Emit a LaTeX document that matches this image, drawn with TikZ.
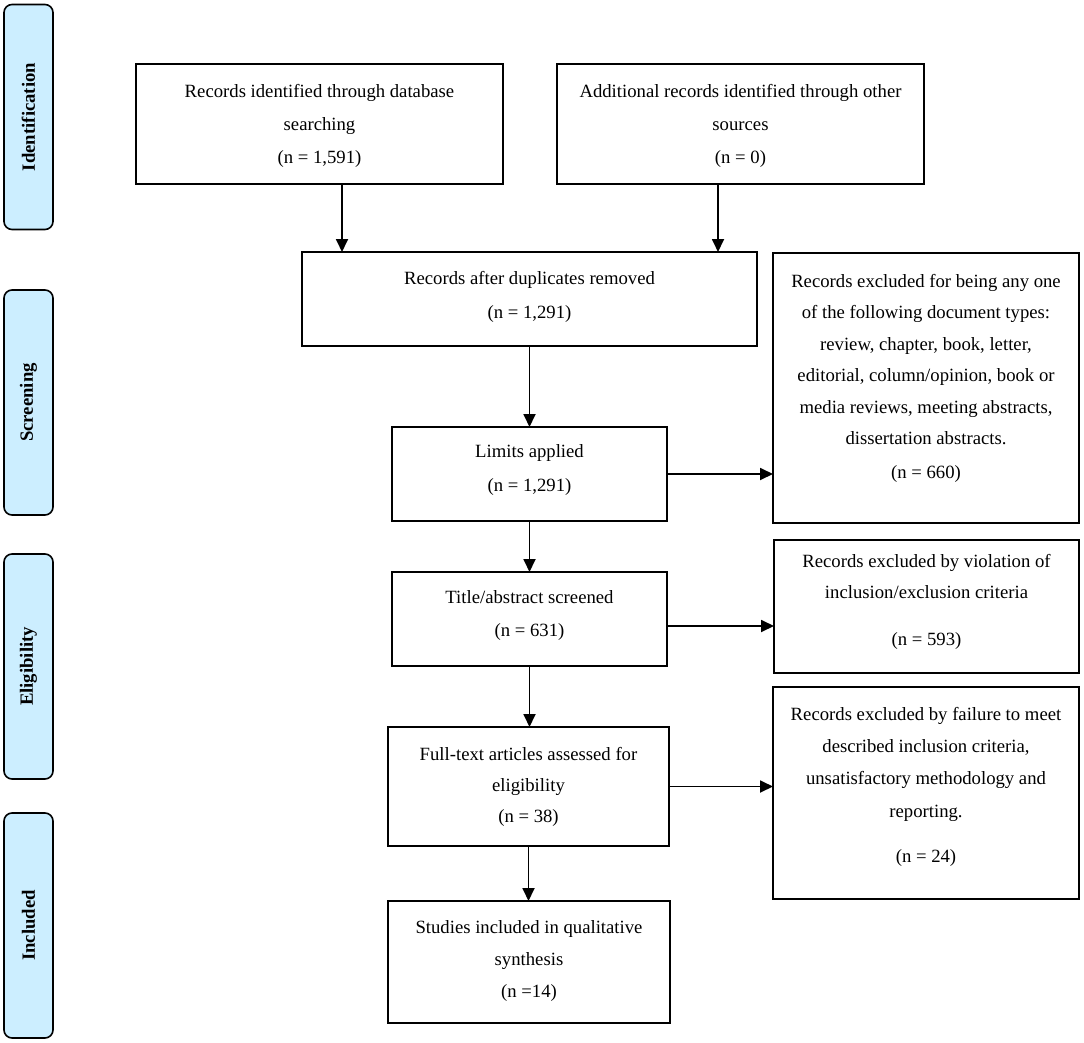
\documentclass[tikz,border=0pt]{standalone}
\usepackage{fontspec}
\setmainfont{Liberation Serif}
\usetikzlibrary{arrows.meta}
\definecolor{tabblue}{RGB}{204,238,255}
\newcommand{\bxt}[5]{\parbox[c][#2pt][t]{#1pt}{\fontsize{18.7pt}{#4pt}\selectfont\centering\vspace*{#3pt}#5}}
\begin{document}
\begin{tikzpicture}[x=1pt,y=1pt,
  box/.style={draw,line width=1.9pt,inner sep=0pt,outer sep=0pt,anchor=north west},
  tab/.style={draw,line width=1.6pt,fill=tabblue,rounded corners=8pt,rotate=90,
    minimum width=225pt,minimum height=49pt,inner sep=0pt,
    font=\fontsize{18.7pt}{22pt}\selectfont\bfseries},
  arr/.style={line width=1.8pt,-{Triangle[length=13pt,width=12pt]}}]
\useasboundingbox (0,0) rectangle (1084,-1043);

% phase tabs
\node[tab] (t1) at (28.5,-117) {Identification};
\node[tab] (t2) at (28.5,-402.5) {Screening};
\node[tab] (t3) at (28.5,-666.5) {Eligibility};
\node[tab] (t4) at (28.5,-925.5) {Included};

% boxes
\node[box] (b1) at (136,-64) {\bxt{367}{120}{20}{33}{Records identified through database\\searching\\(n = 1,591)}};
\node[box] (b2) at (557,-64) {\bxt{367}{120}{20}{33}{Additional records identified through other\\sources\\(n = 0)}};
\node[box] (b3) at (302,-252) {\bxt{455}{94}{19}{34}{Records after duplicates removed\\(n = 1,291)}};
\node[box] (b4) at (392,-427) {\bxt{275}{94}{18}{34}{Limits applied\\(n = 1,291)}};
\node[box] (r1) at (773,-253) {\bxt{306}{270}{21}{31.5}{Records excluded for being any one\\of the following document types:\\review, chapter, book, letter,\\editorial, column/opinion, book or\\media reviews, meeting abstracts,\\dissertation abstracts.\\[2.5pt](n = 660)}};
\node[box] (b5) at (392,-572) {\bxt{275}{94}{19}{33}{Title/abstract screened\\(n = 631)}};
\node[box] (r2) at (774,-540) {\bxt{305}{133}{14}{31}{Records excluded by violation of\\inclusion/exclusion criteria\\[16pt](n = 593)}};
\node[box] (b6) at (388,-727) {\bxt{281}{119}{20}{31}{Full-text articles assessed for\\eligibility\\(n = 38)}};
\node[box] (r3) at (773,-687) {\bxt{306}{212}{20}{32.3}{Records excluded by failure to meet\\described inclusion criteria,\\unsatisfactory methodology and\\reporting.\\[12.7pt](n = 24)}};
\node[box] (b7) at (388,-901) {\bxt{282}{122}{20}{32}{Studies included in qualitative\\synthesis\\(n =14)}};

% connectors
\coordinate (xa) at (342,0);
\coordinate (xb) at (718,0);
\coordinate (yh) at (0,-626);
\draw[arr] (b1.south -| xa) -- (b3.north -| xa);
\draw[arr] (b2.south -| xb) -- (b3.north -| xb);
\draw[arr] (b3.south) -- (b4.north);
\draw[arr] (b4.south) -- (b5.north);
\draw[arr] (b5.south) -- (b5.south |- b6.north);
\draw[arr] (b6.south) -- (b6.south |- b7.north);
\draw[arr] (b4.east) -- (b4.east -| r1.west);
\draw[arr] (b5.east |- yh) -- (r2.west |- yh);
\draw[arr] (b6.east) -- (b6.east -| r3.west);
\end{tikzpicture}
\end{document}
